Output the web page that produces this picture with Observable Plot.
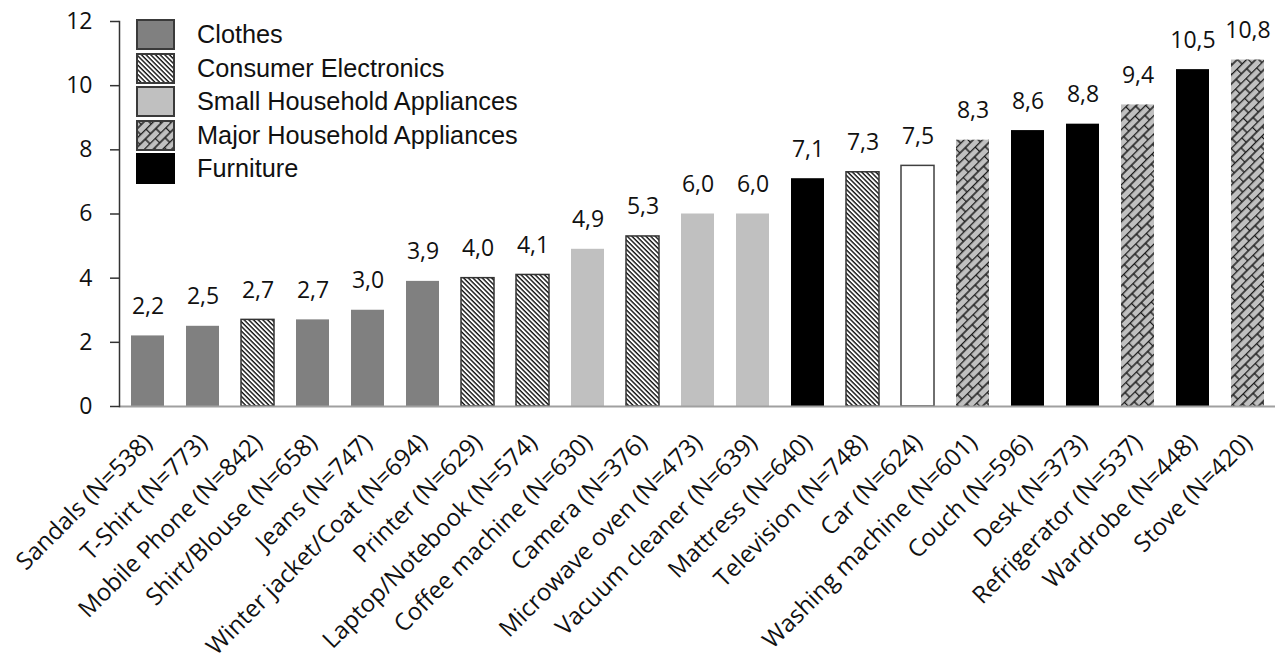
<!DOCTYPE html>
<html>
<head>
<meta charset="utf-8">
<script src="https://cdn.jsdelivr.net/npm/d3@7"></script>
<script src="https://cdn.jsdelivr.net/npm/@observablehq/plot@0.6"></script>
<style>
  body { margin: 0; background: #fff; }
  #wrap { position: relative; width: 1283px; height: 662px; }
  #legend { position: absolute; left: 136px; top: 19px; font-family: "Liberation Sans", Arial, sans-serif; font-size: 25.3px; color: #111; }
  .row { display: flex; align-items: center; height: 31px; margin-bottom: 2.5px; }
  .row svg { margin-right: 22px; flex: none; }
</style>
</head>
<body>
<!-- fill patterns shared by the bars and the legend swatches -->
<svg width="0" height="0" style="position:absolute">
  <defs>
    <pattern id="hatch" patternUnits="userSpaceOnUse" width="4" height="3.3" patternTransform="rotate(45)">
      <rect width="4" height="3.3" fill="#fff"></rect>
      <rect y="0" width="4" height="1.4" fill="#111"></rect>
    </pattern>
    <pattern id="bricks" patternUnits="userSpaceOnUse" width="15" height="13" patternTransform="rotate(-45)">
      <rect width="15" height="13" fill="#c0c0c0"></rect>
      <path d="M0,0.5H15M0,7H15M0.5,0.5V7M8,7V13.5" stroke="#1a1a1a" stroke-width="1.4" fill="none"></path>
    </pattern>
  </defs>
</svg>
<div id="wrap">
  <div id="chart"></div>
  <div id="legend"></div>
</div>
<script>
const items = [
  "Sandals (N=538)", "T-Shirt (N=773)", "Mobile Phone (N=842)", "Shirt/Blouse (N=658)",
  "Jeans (N=747)", "Winter jacket/Coat (N=694)", "Printer (N=629)", "Laptop/Notebook (N=574)",
  "Coffee machine (N=630)", "Camera (N=376)", "Microwave oven (N=473)", "Vacuum cleaner (N=639)",
  "Mattress (N=640)", "Television (N=748)", "Car (N=624)", "Washing machine (N=601)",
  "Couch (N=596)", "Desk (N=373)", "Refrigerator (N=537)", "Wardrobe (N=448)", "Stove (N=420)"
];
const values = [2.2, 2.5, 2.7, 2.7, 3.0, 3.9, 4.0, 4.1, 4.9, 5.3, 6.0, 6.0, 7.1, 7.3, 7.5, 8.3, 8.6, 8.8, 9.4, 10.5, 10.8];
const groups = [
  "Clothes", "Clothes", "Consumer Electronics", "Clothes",
  "Clothes", "Clothes", "Consumer Electronics", "Consumer Electronics",
  "Small Household Appliances", "Consumer Electronics", "Small Household Appliances", "Small Household Appliances",
  "Furniture", "Consumer Electronics", "Other", "Major Household Appliances",
  "Furniture", "Furniture", "Major Household Appliances", "Furniture", "Major Household Appliances"
];
const legendGroups = ["Clothes", "Consumer Electronics", "Small Household Appliances", "Major Household Appliances", "Furniture"];
const yTicks = [0, 2, 4, 6, 8, 10, 12];

const fills = {
  "Clothes": "#808080",
  "Consumer Electronics": "url(#hatch)",
  "Small Household Appliances": "#c0c0c0",
  "Major Household Appliances": "url(#bricks)",
  "Furniture": "#000000",
  "Other": "#ffffff"
};
const strokes = {
  "Clothes": "none",
  "Consumer Electronics": "#333333",
  "Small Household Appliances": "none",
  "Major Household Appliances": "none",
  "Furniture": "none",
  "Other": "#404040"
};

const data = items.map((name, i) => ({name, value: values[i], group: groups[i]}));
const fmt = v => v.toFixed(1).replace(".", ",");

const chart = Plot.plot({
  width: 1283,
  height: 662,
  marginLeft: 119,
  marginRight: 8,
  marginTop: 21,
  marginBottom: 256,
  style: {fontFamily: "'Open Sans', sans-serif", color: "#111", background: "#fff", overflow: "visible"},
  x: {domain: items, paddingInner: 0.4, paddingOuter: 0.2, label: null},
  y: {domain: [0, 12], label: null},
  color: {type: "identity"},
  marks: [
    Plot.barY(data, {
      x: "name", y: "value",
      fill: d => fills[d.group],
      stroke: d => strokes[d.group],
      strokeWidth: 1.5
    }),
    Plot.text(data, {
      x: "name", y: "value",
      text: d => fmt(d.value),
      lineAnchor: "bottom",
      dy: -22,
      fontSize: 23,
      fill: "#111"
    }),
    Plot.ruleY([0], {stroke: "#a0a0a0", strokeWidth: 2}),
    Plot.frame({anchor: "left", stroke: "#333", strokeWidth: 1.5}),
    Plot.axisY({ticks: yTicks, tickSize: 9, tickPadding: 18, fontSize: 23, tickFormat: d => d, stroke: "#333", strokeWidth: 1.5}),
    Plot.axisX({tickSize: 0, tickRotate: -45, tickPadding: 32, fontSize: 24})
  ]
});
document.getElementById("chart").appendChild(chart);

// legend swatches with the same fills as the bars
const legend = d3.select("#legend");
for (const g of legendGroups) {
  const row = legend.append("div").attr("class", "row");
  const sw = row.append("svg").attr("width", 39).attr("height", 31);
  sw.append("rect")
    .attr("x", 1).attr("y", 1).attr("width", 37).attr("height", 29)
    .attr("fill", fills[g])
    .attr("stroke", g === "Furniture" ? "#000" : "#3a3a3a")
    .attr("stroke-width", 2);
  row.append("span").text(g);
}
</script>
</body>
</html>
